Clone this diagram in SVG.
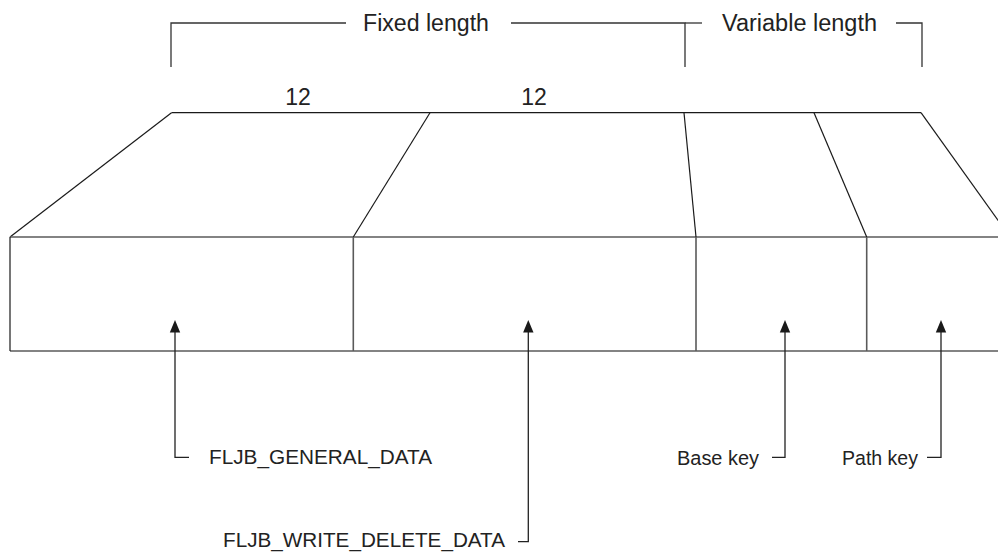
<svg xmlns="http://www.w3.org/2000/svg" width="998" height="553" viewBox="0 0 998 553">
  <style>
    .bg { fill: #ffffff; }
    .edge { fill: none; stroke: #1a1a1a; stroke-width: 1.2; }
    .face { fill: none; stroke: #5a5a5a; stroke-width: 1.6; }
    .brk { fill: none; stroke: #333333; stroke-width: 1.3; }
    .conn { fill: none; stroke: #222222; stroke-width: 1.3; }
    .head { fill: #1a1a1a; }
    .t { font-family: "Liberation Sans", Arial, Helvetica, sans-serif; fill: #222222; }
    .big { font-size: 23px; }
    .lbl { font-size: 20.5px; }
  </style>
  <rect class="bg" x="0" y="0" width="998" height="553"/>

  <g id="bracket-fixed">
    <polyline class="brk" points="171,67 171,23 346,23"/>
    <polyline class="brk" points="511,23 685,23 685,67"/>
    <text class="t big" x="426" y="31" text-anchor="middle" textLength="126" lengthAdjust="spacingAndGlyphs">Fixed length</text>
  </g>
  <g id="bracket-variable">
    <line class="brk" x1="685" y1="23" x2="702" y2="23"/>
    <polyline class="brk" points="896,23 922,23 922,67"/>
    <text class="t big" x="799.5" y="31" text-anchor="middle" textLength="155" lengthAdjust="spacingAndGlyphs">Variable length</text>
  </g>

  <g id="size-labels">
    <text class="t big" x="298" y="105" text-anchor="middle">12</text>
    <text class="t big" x="534" y="105" text-anchor="middle">12</text>
  </g>

  <g id="record">
    <line class="edge" x1="171.5" y1="112.7" x2="921" y2="112.7"/>
    <line class="edge" x1="171.5" y1="112.7" x2="10" y2="237"/>
    <line class="edge" x1="921" y1="112.7" x2="1010" y2="237"/>
    <line class="face" x1="10" y1="237" x2="998" y2="237"/>
    <line class="face" x1="10" y1="351" x2="998" y2="351"/>
    <line class="edge" x1="10" y1="237" x2="10" y2="351"/>
  </g>
  <g id="field-general">
    <line class="edge" x1="430" y1="112.7" x2="353.3" y2="237"/>
    <line class="face" x1="353.3" y1="237" x2="353.3" y2="351"/>
  </g>
  <g id="field-write-delete">
    <line class="edge" x1="684" y1="112.7" x2="696" y2="237"/>
    <line class="face" x1="696" y1="237" x2="696" y2="351"/>
  </g>
  <g id="field-base-key">
    <line class="edge" x1="814" y1="112.7" x2="866.7" y2="237"/>
    <line class="face" x1="866.7" y1="237" x2="866.7" y2="351"/>
  </g>

  <g id="connectors">
    <polyline class="conn" points="175,331 175,457.3 189,457.3"/>
    <polygon class="head" points="175,320 169.8,332.5 180.2,332.5"/>
    <polyline class="conn" points="528.3,331 528.3,541.7 518,541.7"/>
    <polygon class="head" points="528.3,320 523.1,332.5 533.5,332.5"/>
    <polyline class="conn" points="785,331 785,457.3 772,457.3"/>
    <polygon class="head" points="785,320 779.8,332.5 790.2,332.5"/>
    <polyline class="conn" points="941,331 941,457.3 927,457.3"/>
    <polygon class="head" points="941,320 935.8,332.5 946.2,332.5"/>
  </g>

  <g id="label-general">
    <text class="t lbl" x="209" y="464" textLength="223" lengthAdjust="spacingAndGlyphs">FLJB_GENERAL_DATA</text>
  </g>
  <g id="label-write-delete">
    <text class="t lbl" x="223" y="547" textLength="282" lengthAdjust="spacingAndGlyphs">FLJB_WRITE_DELETE_DATA</text>
  </g>
  <g id="label-base-key">
    <text class="t lbl" x="677" y="465" textLength="82" lengthAdjust="spacingAndGlyphs">Base key</text>
  </g>
  <g id="label-path-key">
    <text class="t lbl" x="842" y="465" textLength="76" lengthAdjust="spacingAndGlyphs">Path key</text>
  </g>
</svg>
